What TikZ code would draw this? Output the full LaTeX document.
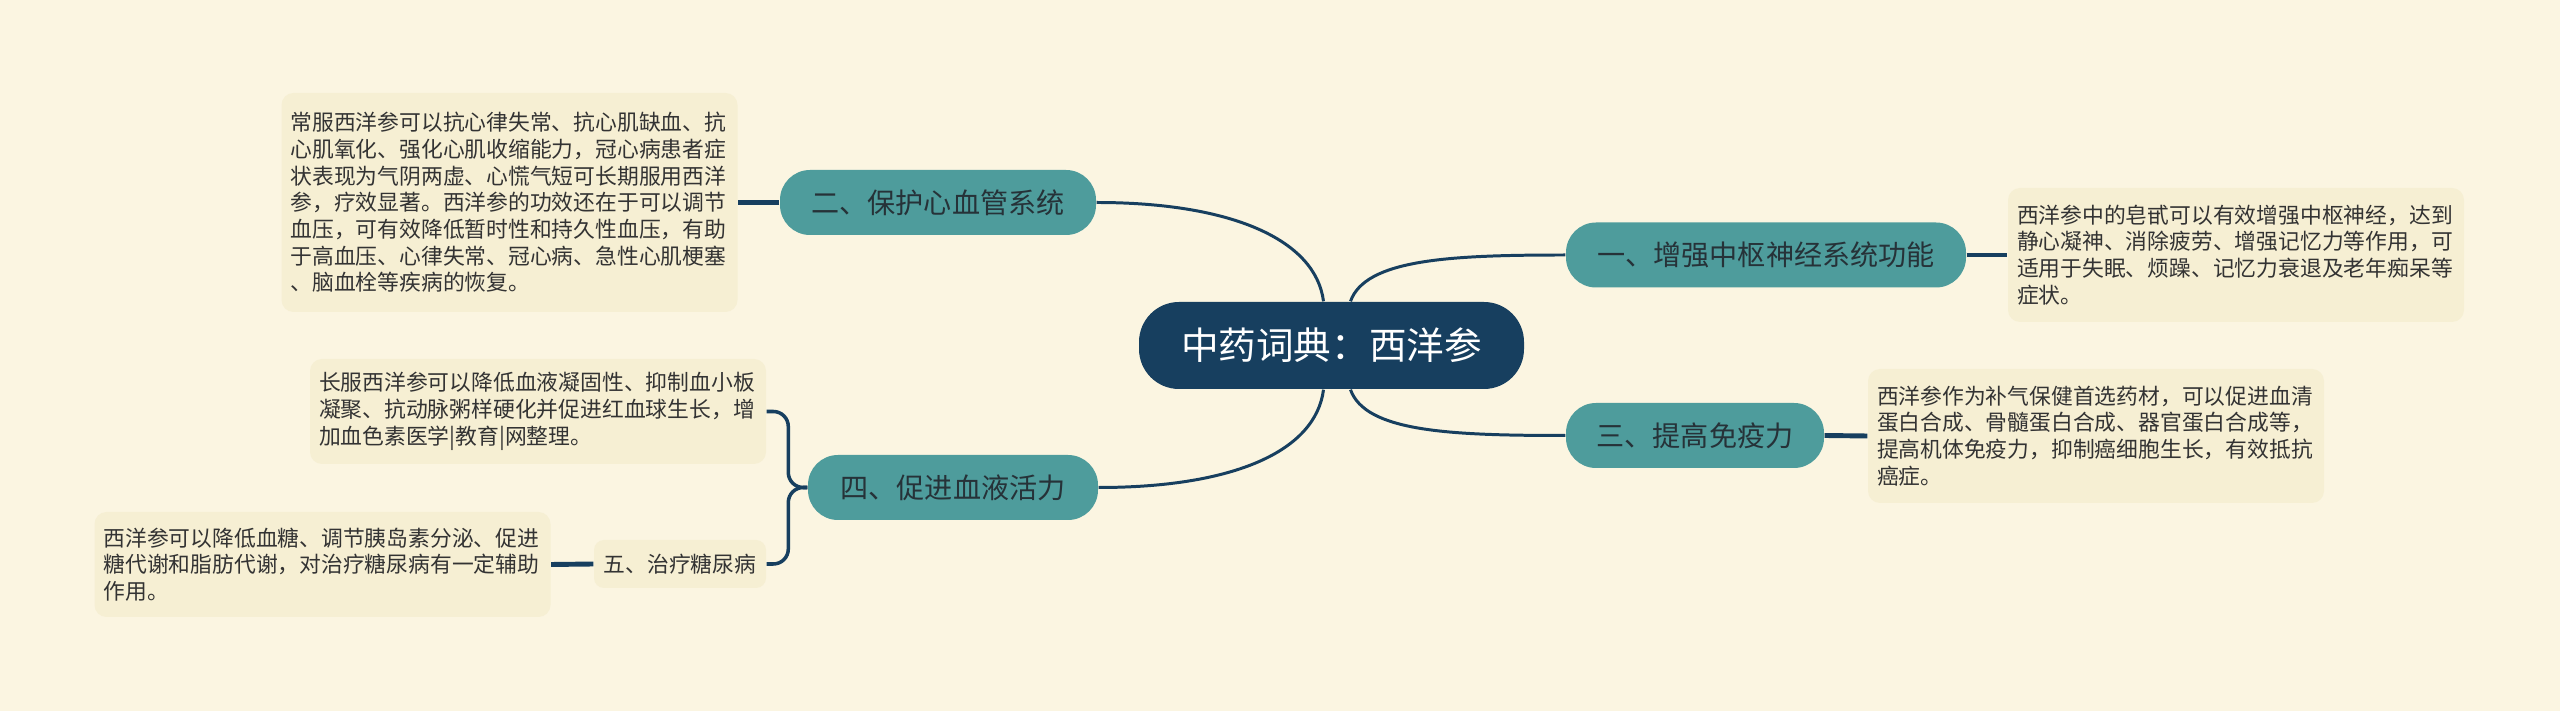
\documentclass[tikz,border=0pt]{standalone}
\usepackage{fontspec}
\newfontfamily\cjk{Noto Sans CJK SC}
\definecolor{bgcream}{HTML}{FBF5E1}
\definecolor{rootblue}{HTML}{173F5F}
\definecolor{topicteal}{HTML}{4E9C9C}
\definecolor{topictext}{HTML}{263238}
\definecolor{leafcream}{HTML}{F6EFD3}
\definecolor{leaftext}{HTML}{333333}
\definecolor{linkblue}{HTML}{173F5F}
\begin{document}
\begin{tikzpicture}[
    root/.style={rectangle, rounded corners=0.4cm, fill=rootblue, text=white, minimum width=3.85cm, minimum height=0.87cm, inner sep=0pt, font=\cjk\fontsize{10.7}{12}\selectfont},
    topic/.style={rectangle, rounded corners=0.3cm, fill=topicteal, text=topictext, minimum height=0.65cm, inner sep=0pt, font=\cjk\fontsize{8}{10}\selectfont},
    leaf/.style={rectangle, rounded corners=0.12cm, fill=leafcream, text=leaftext, text width=4.38cm, inner xsep=0.09cm, inner ysep=0pt, align=left, font=\cjk\fontsize{6.2}{7.6}\selectfont},
    link/.style={draw=linkblue, line width=0.85pt},
    stub/.style={draw=linkblue, line width=1.4pt}
]
        % Background
        \fill[bgcream] (0,0) rectangle (25.6,-7.11);
        \useasboundingbox (0,0) rectangle (25.6,-7.11);

        % Create the central topic
        \node[root] (root) at (13.315,-3.455) {中药词典：西洋参};

        % Main branches
        \node[topic, minimum width=4.00cm] (one) at (17.66,-2.55) {一、增强中枢神经系统功能};
        \node[topic, minimum width=2.58cm] (three) at (16.95,-4.355) {三、提高免疫力};
        \node[topic, minimum width=3.16cm] (two) at (9.38,-2.025) {二、保护心血管系统};
        \node[topic, minimum width=2.90cm] (four) at (9.53,-4.875) {四、促进血液活力};
        \node[rectangle, rounded corners=0.1cm, fill=leafcream, text=leaftext, minimum width=1.72cm, minimum height=0.48cm, inner sep=0pt, font=\cjk\fontsize{6.2}{7.6}\selectfont] (five) at (6.80,-5.64) {五、治疗糖尿病};

        % Notes
        \node[leaf, minimum height=1.34cm] (t1) at (22.36,-2.55) {西洋参中的皂甙可以有效增强中枢神经，达到\\静心凝神、消除疲劳、增强记忆力等作用，可\\适用于失眠、烦躁、记忆力衰退及老年痴呆等\\症状。};
        \node[leaf, minimum height=1.34cm] (t3) at (20.96,-4.36) {西洋参作为补气保健首选药材，可以促进血清\\蛋白合成、骨髓蛋白合成、器官蛋白合成等，\\提高机体免疫力，抑制癌细胞生长，有效抵抗\\癌症。};
        \node[leaf, minimum height=2.19cm] (t2) at (5.095,-2.025) {常服西洋参可以抗心律失常、抗心肌缺血、抗\\心肌氧化、强化心肌收缩能力，冠心病患者症\\状表现为气阴两虚、心慌气短可长期服用西洋\\参，疗效显著。西洋参的功效还在于可以调节\\血压，可有效降低暂时性和持久性血压，有助\\于高血压、心律失常、冠心病、急性心肌梗塞\\、脑血栓等疾病的恢复。};
        \node[leaf, minimum height=1.05cm] (t4) at (5.38,-4.115) {长服西洋参可以降低血液凝固性、抑制血小板\\凝聚、抗动脉粥样硬化并促进红血球生长，增\\加血色素医学|教育|网整理。};
        \node[leaf, minimum height=1.05cm] (t5) at (3.225,-5.645) {西洋参可以降低血糖、调节胰岛素分泌、促进\\糖代谢和脂肪代谢，对治疗糖尿病有一定辅助\\作用。};

        % Connect nodes
        \draw[link] ([xshift=0.19cm]root.north) .. controls +(0.15,0.42) and +(-1.16,0) .. (one.west);
        \draw[link] ([xshift=0.19cm]root.south) .. controls +(0.15,-0.42) and +(-1.16,0) .. (three.west);
        \draw[link] ([xshift=-0.08cm]root.north) .. controls +(-0.08,0.62) and +(1.34,0) .. (two.east);
        \draw[link] ([xshift=-0.08cm]root.south) .. controls +(-0.08,-0.62) and +(1.34,0) .. (four.east);
        \draw[stub] (one.east) -- (t1.west);
        \draw[stub] (three.east) -- (t3.west);
        \draw[stub] (two.west) -- (t2.east);
        \draw[link, line width=1pt, rounded corners=0.15cm] (four.west) -- ++(-0.19,0) |- (t4.east);
        \draw[link, line width=1pt, rounded corners=0.15cm] (four.west) -- ++(-0.19,0) |- (five.east);
        \draw[stub] (five.west) -- (t5.east);
    \end{tikzpicture}
\end{document}
